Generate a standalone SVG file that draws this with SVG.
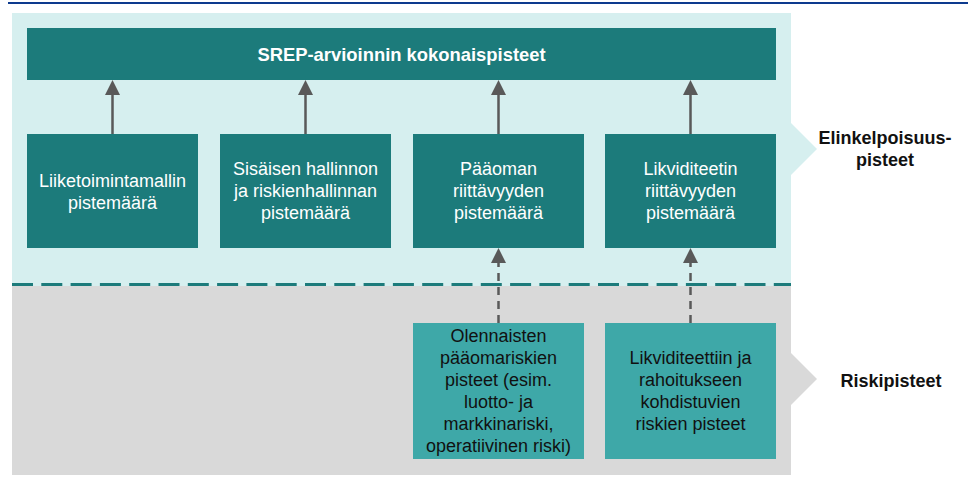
<svg xmlns="http://www.w3.org/2000/svg" width="968" height="487" viewBox="0 0 968 487">
  <style>
    .dark { fill: #1c7b7b; }
    .light { fill: #3ea8a8; }
    .t { font-family: "Liberation Sans", Arial, sans-serif; font-size: 18px; text-anchor: middle; }
    .tw { fill: #ffffff; }
    .tk { fill: #111111; }
    .b { font-weight: bold; }
    .title { font-size: 18.4px; }
    .solid { stroke: #595959; stroke-width: 2.5; fill: none; }
    .dash { stroke: #595959; stroke-width: 2.5; fill: none; stroke-dasharray: 8 6; }
    .head { fill: #595959; }
  </style>

  <!-- header rule -->
  <rect x="8" y="2" width="960" height="2" fill="#0d3a8e"/>

  <!-- band backgrounds with pointers -->
  <polygon points="12,13 791,13 791,123 817,149 791,175 791,286 12,286" fill="#d6efef"/>
  <polygon points="12,286 791,286 791,353 817,379 791,405 791,475 12,475" fill="#d9d9d9"/>
  <line x1="12" y1="284.5" x2="791" y2="284.5" stroke="#1c7b7b" stroke-width="3" stroke-dasharray="21 8.3"/>

  <!-- band labels -->
  <text class="t b tk" x="885" y="144">Elinkelpoisuus-</text>
  <text class="t b tk" x="885" y="166">pisteet</text>
  <text class="t b tk" x="891" y="387">Riskipisteet</text>

  <!-- connectors -->
  <g id="connectors">
    <line class="solid" x1="112.5" y1="134" x2="112.5" y2="94"/>
    <polygon class="head" points="112.5,80 105,95 120,95"/>
    <line class="solid" x1="305.5" y1="134" x2="305.5" y2="94"/>
    <polygon class="head" points="305.5,80 298,95 313,95"/>
    <line class="solid" x1="498.5" y1="134" x2="498.5" y2="94"/>
    <polygon class="head" points="498.5,80 491,95 506,95"/>
    <line class="solid" x1="690.5" y1="134" x2="690.5" y2="94"/>
    <polygon class="head" points="690.5,80 683,95 698,95"/>

    <line class="dash" x1="498.5" y1="323" x2="498.5" y2="263"/>
    <polygon class="head" points="498.5,248 491,263 506,263"/>
    <line class="dash" x1="690.5" y1="323" x2="690.5" y2="263"/>
    <polygon class="head" points="690.5,248 683,263 698,263"/>
  </g>

  <g id="total">
    <rect class="dark" x="27" y="28" width="749" height="52"/>
    <text class="t b tw title" x="401.5" y="61">SREP-arvioinnin kokonaispisteet</text>
  </g>

  <g id="business-model">
    <rect class="dark" x="27" y="134" width="171" height="114"/>
    <text class="t tw" x="112.5" y="187">Liiketoimintamallin</text>
    <text class="t tw" x="112.5" y="209">pistemäärä</text>
  </g>

  <g id="governance">
    <rect class="dark" x="220" y="134" width="171" height="114"/>
    <text class="t tw" x="305.5" y="175">Sisäisen hallinnon</text>
    <text class="t tw" x="305.5" y="197">ja riskienhallinnan</text>
    <text class="t tw" x="305.5" y="219">pistemäärä</text>
  </g>

  <g id="capital">
    <rect class="dark" x="413" y="134" width="171" height="114"/>
    <text class="t tw" x="498.5" y="175">Pääoman</text>
    <text class="t tw" x="498.5" y="197">riittävyyden</text>
    <text class="t tw" x="498.5" y="219">pistemäärä</text>
  </g>

  <g id="liquidity">
    <rect class="dark" x="605" y="134" width="171" height="114"/>
    <text class="t tw" x="690.5" y="175">Likviditeetin</text>
    <text class="t tw" x="690.5" y="197">riittävyyden</text>
    <text class="t tw" x="690.5" y="219">pistemäärä</text>
  </g>

  <g id="capital-risks">
    <rect class="light" x="413" y="323" width="171" height="136"/>
    <text class="t tk" x="498.5" y="342">Olennaisten</text>
    <text class="t tk" x="498.5" y="364">pääomariskien</text>
    <text class="t tk" x="498.5" y="386">pisteet (esim.</text>
    <text class="t tk" x="498.5" y="408">luotto- ja</text>
    <text class="t tk" x="498.5" y="430">markkinariski,</text>
    <text class="t tk" x="498.5" y="452">operatiivinen riski)</text>
  </g>

  <g id="liquidity-risks">
    <rect class="light" x="605" y="323" width="171" height="136"/>
    <text class="t tk" x="690.5" y="364">Likviditeettiin ja</text>
    <text class="t tk" x="690.5" y="386">rahoitukseen</text>
    <text class="t tk" x="690.5" y="408">kohdistuvien</text>
    <text class="t tk" x="690.5" y="430">riskien pisteet</text>
  </g>
</svg>
